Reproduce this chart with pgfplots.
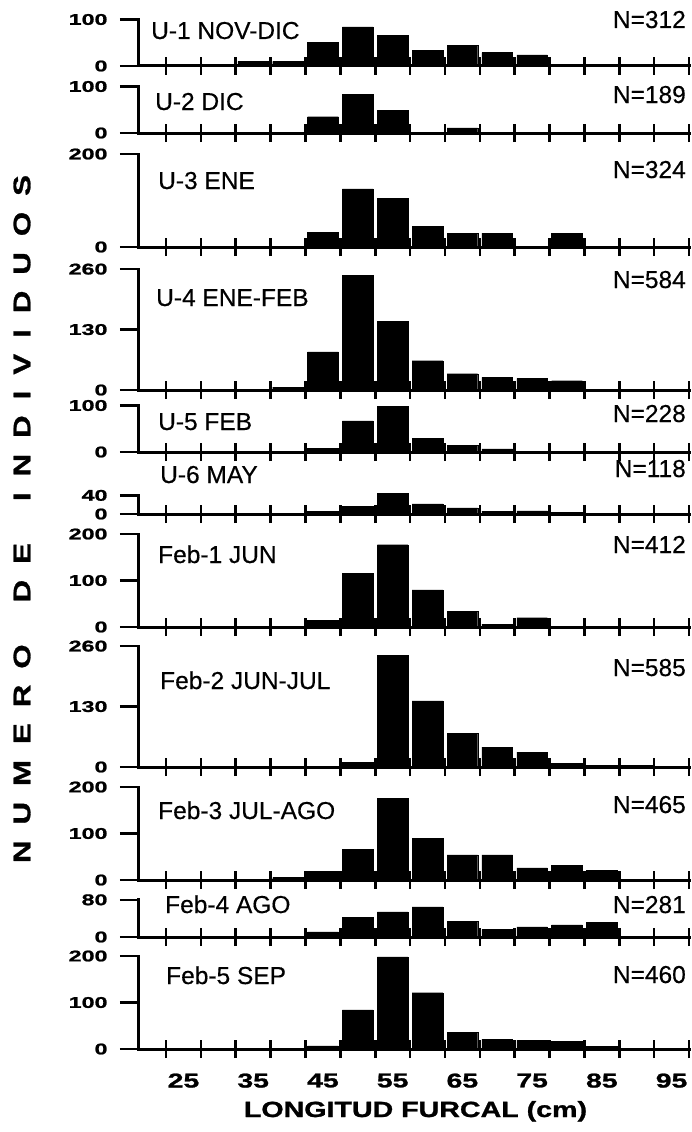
\documentclass[border=0pt]{standalone}
\usepackage{fontspec}
\setmainfont{Liberation Sans}[FakeBold=0.4]
\newfontfamily\wideA{Liberation Sans}[FakeStretch=1.42, BoldFeatures={FakeBold=1.2}]
\newfontfamily\wideB{Liberation Sans}[FakeStretch=1.3, BoldFeatures={FakeBold=1.2}]
\newfontfamily\wideC{Liberation Sans}[FakeStretch=1.5, BoldFeatures={FakeBold=1.2}]
\usepackage{pgfplots}
\pgfplotsset{compat=1.18}
\pgfplotsset{
 panel/.style={
  x=6.973pt, y=0.465pt,
  xmin=18.48, xmax=97.5, ymin=0,
  enlargelimits=false,
  axis lines=left,
  axis line style={-, line width=3pt, line cap=rect},
  anchor=south west,
  clip=false,
  ybar, bar width=4.4,
  xtick={22.5,27.5,32.5,37.5,42.5,47.5,52.5,57.5,62.5,67.5,72.5,77.5,82.5,87.5,92.5,97.5},
  xticklabels={},
  major tick length=18pt,
  xtick align=center,
  ytick align=outside,
  every tick/.append style={black, line width=2.6pt},
  yticklabel style={font=\wideC\bfseries\fontsize{15.5}{15.5}\selectfont, xshift=-9pt},
  /pgf/number format/assume math mode=true,
 },
 hb/.style={fill=black, draw=black, line width=0.4pt},
}
\newcommand\g{\hspace{16pt}}
\newcommand\G{\hspace{42pt}}
\begin{document}
\begin{tikzpicture}
\useasboundingbox (0pt,0pt) rectangle (692pt,-1132pt);

% P1 U-1
\begin{axis}[panel, at={(138pt,-66pt)}, ymax=100, ytick={0,100}]
\addplot[hb] coordinates {(35,10) (40,10) (45,51) (50,84) (55,66) (60,34) (65,45) (70,29) (75,24)};
\end{axis}
% P2 U-2
\begin{axis}[panel, at={(138pt,-133pt)}, ymax=100, ytick={0,100}]
\addplot[hb] coordinates {(45,35) (50,83) (55,49) (65,11)};
\end{axis}
% P3 U-3
\begin{axis}[panel, at={(138pt,-247pt)}, ymax=200, ytick={0,200}]
\addplot[hb] coordinates {(45,32) (50,125) (55,104) (60,45) (65,30) (70,30) (80,30)};
\end{axis}
% P4 U-4
\begin{axis}[panel, at={(138pt,-390pt)}, ymax=260, ytick={0,130,260}]
\addplot[hb] coordinates {(40,6) (45,82) (50,246) (55,148) (60,63) (65,35) (70,27) (75,25) (80,20)};
\end{axis}
% P5 U-5
\begin{axis}[panel, at={(138pt,-452pt)}, ymax=100, ytick={0,100}]
\addplot[hb] coordinates {(45,8) (50,67) (55,98) (60,29) (65,15) (70,7)};
\end{axis}
% P6 U-6
\begin{axis}[panel, at={(138pt,-514pt)}, ymax=40, ytick={0,40}]
\addplot[hb] coordinates {(45,5) (50,16) (55,44) (60,22) (65,13) (70,6) (75,7) (80,3)};
\end{axis}
% P7 Feb-1
\begin{axis}[panel, at={(138pt,-627pt)}, ymax=200, ytick={0,100,200}]
\addplot[hb] coordinates {(45,14) (50,116) (55,177) (60,80) (65,34) (70,6) (75,20)};
\end{axis}
% P8 Feb-2
\begin{axis}[panel, at={(138pt,-767pt)}, ymax=260, ytick={0,130,260}]
\addplot[hb] coordinates {(50,10) (55,240) (60,142) (65,72) (70,43) (75,32) (80,8) (85,4) (90,4)};
\end{axis}
% P9 Feb-3
\begin{axis}[panel, at={(138pt,-880pt)}, ymax=200, ytick={0,100,200}]
\addplot[hb] coordinates {(40,5) (45,19) (50,66) (55,176) (60,90) (65,54) (70,54) (75,26) (80,31) (85,21)};
\end{axis}
% P10 Feb-4
\begin{axis}[panel, at={(138pt,-937pt)}, ymax=80, ytick={0,80}]
\addplot[hb] coordinates {(45,11) (50,42) (55,54) (60,65) (65,34) (70,16) (75,22) (80,26) (85,31)};
\end{axis}
% P11 Feb-5
\begin{axis}[panel, at={(138pt,-1049pt)}, ymax=200, ytick={0,100,200},
  extra x ticks={25,35,45,55,65,75,85,95},
  extra x tick labels={25,35,45,55,65,75,85,95},
  extra x tick style={major tick length=0pt,
    xticklabel style={font=\wideA\bfseries\fontsize{20}{20}\selectfont, yshift=-21pt}}]
\addplot[hb] coordinates {(45,7) (50,84) (55,198) (60,121) (65,36) (70,21) (75,19) (80,16) (85,6)};
\end{axis}

% panel labels
\begin{scope}[every node/.style={inner sep=0pt, font=\fontsize{24.5}{24.5}\selectfont}]
\node[anchor=base west] at (151pt,-39pt) {U-1 NOV-DIC};
\node[anchor=base west] at (155pt,-110pt) {U-2 DIC};
\node[anchor=base west] at (158pt,-189pt) {U-3 ENE};
\node[anchor=base west] at (156pt,-306pt) {U-4 ENE-FEB};
\node[anchor=base west] at (158pt,-430pt) {U-5 FEB};
\node[anchor=base west] at (160pt,-483pt) {U-6 MAY};
\node[anchor=base west] at (158pt,-563pt) {Feb-1 JUN};
\node[anchor=base west] at (160pt,-689pt) {Feb-2 JUN-JUL};
\node[anchor=base west] at (158pt,-819pt) {Feb-3 JUL-AGO};
\node[anchor=base west] at (165pt,-913pt) {Feb-4 AGO};
\node[anchor=base west] at (166pt,-984pt) {Feb-5 SEP};
\node[anchor=base east] at (686pt,-28pt) {N=312};
\node[anchor=base east] at (686pt,-103pt) {N=189};
\node[anchor=base east] at (686pt,-178pt) {N=324};
\node[anchor=base east] at (686pt,-288pt) {N=584};
\node[anchor=base east] at (686pt,-422pt) {N=228};
\node[anchor=base east] at (686pt,-477pt) {N=118};
\node[anchor=base east] at (686pt,-553pt) {N=412};
\node[anchor=base east] at (686pt,-676pt) {N=585};
\node[anchor=base east] at (686pt,-813pt) {N=465};
\node[anchor=base east] at (686pt,-913pt) {N=281};
\node[anchor=base east] at (686pt,-983pt) {N=460};
\end{scope}

\node[anchor=base, inner sep=0pt, font=\wideB\bfseries\fontsize{22}{22}\selectfont] at (415.5pt,-1117pt) {LONGITUD FURCAL (cm)};
\node[rotate=90, inner sep=0pt, font=\wideB\bfseries\fontsize{24}{24}\selectfont] at (22pt,-519pt)
 {N\g U\g M\g E\g R\g O\G D\g E\G I\g N\g D\g I\g V\g I\g D\g U\g O\g S};
\end{tikzpicture}
\end{document}
